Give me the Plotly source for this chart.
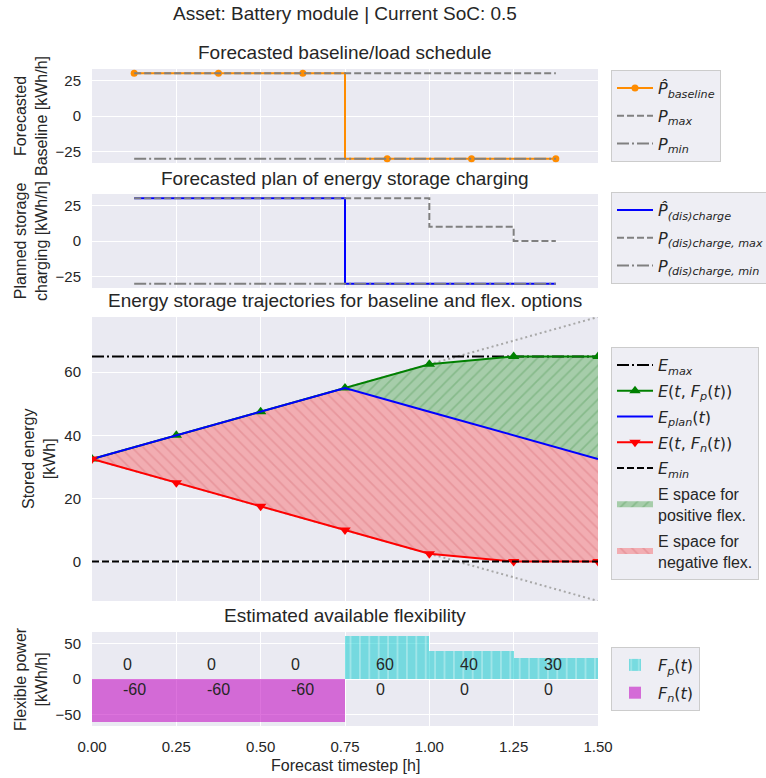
import plotly.graph_objects as go

# ---------------------------------------------------------------- data
# forecast timesteps (bin centres for power, bin edges for energy)
t_centers = [0.125, 0.375, 0.625, 0.875, 1.125, 1.375]
t_edges = [0.0, 0.25, 0.5, 0.75, 1.0, 1.25, 1.5]
x_ticks = [0.0, 0.25, 0.5, 0.75, 1.0, 1.25, 1.5]

# forecasted baseline / load schedule [kWh/h]
p_baseline = [30, 30, 30, -30, -30, -30]
p_max = [30, 30, 30, 30, 30, 30]
p_min = [-30, -30, -30, -30, -30, -30]

# planned storage (dis)charging [kWh/h]
p_charge = [30, 30, 30, -30, -30, -30]
p_charge_max = [30, 30, 30, 30, 10, 0]
p_charge_min = [-30, -30, -30, -30, -30, -30]

# stored energy trajectories [kWh]
e_plan = [32.5, 40, 47.5, 55, 47.5, 40, 32.5]
e_pos = [32.5, 40, 47.5, 55, 62.5, 65, 65]
e_neg = [32.5, 25, 17.5, 10, 2.5, 0, 0]
e_max = [65, 65]
e_min = [0, 0]
e_limit_x = [0.0, 1.5]
e_reach_up = [32.5, 77.5]
e_reach_down = [32.5, -12.5]

# estimated available flexibility [kWh/h]
flex_pos = [0, 0, 0, 60, 40, 30]
flex_neg = [-60, -60, -60, 0, 0, 0]

# ---------------------------------------------------------------- style
FONT = "Liberation Sans, Arial, sans-serif"
MATH = "DejaVu Sans"
INK = "#262626"
BG = "#EAEAF2"
W, H = 766, 778
L, R = 92, 598


def py(px):
    return 1 - px / H


def px_x(px):
    return (px - L) / (R - L)


def m(s):
    return "<span style='font-family:DejaVu Sans'>" + s + "</span>"


fig = go.Figure()

# ---------------------------------------------------------------- panel 1
fig.add_trace(go.Scatter(
    x=t_centers, y=p_baseline, mode="lines+markers",
    line=dict(color="#FF8C00", width=2, shape="hvh"),
    marker=dict(size=7, color="#FF8C00"),
    name="<i>P\u0302</i><sub><i>baseline</i></sub>",
    legend="legend", legendgroup="a1", xaxis="x", yaxis="y"))
fig.add_trace(go.Scatter(
    x=t_centers, y=p_max, mode="lines",
    line=dict(color="gray", width=2, shape="hvh", dash="7px,3px"),
    name="<i>P</i><sub><i>max</i></sub>",
    legend="legend", legendgroup="a2", xaxis="x", yaxis="y"))
fig.add_trace(go.Scatter(
    x=t_centers, y=p_min, mode="lines",
    line=dict(color="gray", width=2, shape="hvh", dash="12px,3px,2px,3px"),
    name="<i>P</i><sub><i>min</i></sub>",
    legend="legend", legendgroup="a3", xaxis="x", yaxis="y"))

# ---------------------------------------------------------------- panel 2
fig.add_trace(go.Scatter(
    x=t_centers, y=p_charge, mode="lines",
    line=dict(color="#0000FF", width=2, shape="hvh"),
    name="<i>P\u0302</i><sub><i>(dis)charge</i></sub>",
    legend="legend2", legendgroup="b1", xaxis="x2", yaxis="y2"))
fig.add_trace(go.Scatter(
    x=t_centers, y=p_charge_max, mode="lines",
    line=dict(color="gray", width=2, shape="hvh", dash="7px,3px"),
    name="<i>P</i><sub><i>(dis)charge, max</i></sub>",
    legend="legend2", legendgroup="b2", xaxis="x2", yaxis="y2"))
fig.add_trace(go.Scatter(
    x=t_centers, y=p_charge_min, mode="lines",
    line=dict(color="gray", width=2, shape="hvh", dash="12px,3px,2px,3px"),
    name="<i>P</i><sub><i>(dis)charge, min</i></sub>",
    legend="legend2", legendgroup="b3", xaxis="x2", yaxis="y2"))

# ---------------------------------------------------------------- panel 3
# hatched energy spaces
fig.add_trace(go.Scatter(
    x=t_edges, y=e_plan, mode="lines", line=dict(width=0),
    showlegend=False, hoverinfo="skip", xaxis="x3", yaxis="y3"))
fig.add_trace(go.Scatter(
    x=t_edges, y=e_pos, mode="none", fill="tonexty",
    fillcolor="#A6CDAA",
    fillpattern=dict(shape="/", fillmode="overlay", bgcolor="#A6CDAA",
                     fgcolor="#86BA8A", fgopacity=1, size=8, solidity=0.2),
    name="E space for<br>positive flex.",
    legend="legend3", legendgroup="c6", legendrank=6,
    xaxis="x3", yaxis="y3"))
fig.add_trace(go.Scatter(
    x=t_edges, y=e_neg, mode="lines", line=dict(width=0),
    showlegend=False, hoverinfo="skip", xaxis="x3", yaxis="y3"))
fig.add_trace(go.Scatter(
    x=t_edges, y=e_plan, mode="none", fill="tonexty",
    fillcolor="#F2ADB2",
    fillpattern=dict(shape="\\", fillmode="overlay", bgcolor="#F2ADB2",
                     fgcolor="#E8969C", fgopacity=1, size=8, solidity=0.2),
    name="E space for<br>negative flex.",
    legend="legend3", legendgroup="c7", legendrank=7,
    xaxis="x3", yaxis="y3"))
# reachable energy bounds
for yy in (e_reach_up, e_reach_down):
    fig.add_trace(go.Scatter(
        x=e_limit_x, y=yy, mode="lines",
        line=dict(color="#A8A8A8", width=2, dash="2px,3px"),
        showlegend=False, hoverinfo="skip", xaxis="x3", yaxis="y3"))
fig.add_trace(go.Scatter(
    x=e_limit_x, y=e_max, mode="lines",
    line=dict(color="black", width=2, dash="12px,3px,2px,3px"),
    name=m("<i>E</i><sub><i>max</i></sub>"),
    legend="legend3", legendgroup="c1", legendrank=1,
    xaxis="x3", yaxis="y3"))
fig.add_trace(go.Scatter(
    x=t_edges, y=e_pos, mode="lines+markers",
    line=dict(color="#008000", width=2),
    marker=dict(symbol="triangle-up", size=10, color="#008000"),
    name=m("<i>E</i>(<i>t</i>, <i>F</i><sub><i>p</i></sub>(<i>t</i>))"),
    legend="legend3", legendgroup="c2", legendrank=2,
    xaxis="x3", yaxis="y3"))
fig.add_trace(go.Scatter(
    x=t_edges, y=e_plan, mode="lines",
    line=dict(color="#0000FF", width=2),
    name=m("<i>E</i><sub><i>plan</i></sub>(<i>t</i>)"),
    legend="legend3", legendgroup="c3", legendrank=3,
    xaxis="x3", yaxis="y3"))
fig.add_trace(go.Scatter(
    x=t_edges, y=e_neg, mode="lines+markers",
    line=dict(color="#FF0000", width=2),
    marker=dict(symbol="triangle-down", size=10, color="#FF0000"),
    name=m("<i>E</i>(<i>t</i>, <i>F</i><sub><i>n</i></sub>(<i>t</i>))"),
    legend="legend3", legendgroup="c4", legendrank=4,
    xaxis="x3", yaxis="y3"))
fig.add_trace(go.Scatter(
    x=e_limit_x, y=e_min, mode="lines",
    line=dict(color="black", width=2, dash="7px,3px"),
    name=m("<i>E</i><sub><i>min</i></sub>"),
    legend="legend3", legendgroup="c5", legendrank=5,
    xaxis="x3", yaxis="y3"))

# ---------------------------------------------------------------- panel 4
fig.add_trace(go.Bar(
    x=t_centers, y=flex_pos, width=0.25,
    marker=dict(color="rgba(0,200,204,0.5)", line=dict(width=0),
                pattern=dict(shape="|", fillmode="overlay", fgcolor="white",
                             fgopacity=0.3, size=9.4, solidity=0.2)),
    name="<i>F</i><sub><i>p</i></sub>(<i>t</i>)",
    legend="legend4", legendgroup="d1", xaxis="x4", yaxis="y4"))
fig.add_trace(go.Bar(
    x=t_centers, y=flex_neg, width=0.25,
    marker=dict(color="rgba(191,0,191,0.55)", line=dict(width=0)),
    name="<i>F</i><sub><i>n</i></sub>(<i>t</i>)",
    legend="legend4", legendgroup="d2", xaxis="x4", yaxis="y4"))

annotations = []
for c, vp, vn in zip(t_centers, flex_pos, flex_neg):
    for v, yv in ((vp, 20), (vn, -15)):
        annotations.append(dict(
            x=c - 0.04, y=yv, xref="x4", yref="y4", text=str(v),
            showarrow=False, xanchor="left", yanchor="middle",
            font=dict(family=FONT, size=16, color=INK)))

# ---------------------------------------------------------------- titles
def text_ann(txt, xpx, ypx, size, angle=0):
    return dict(x=px_x(xpx), y=py(ypx), xref="paper", yref="paper", text=txt,
                showarrow=False, xanchor="center", yanchor="middle",
                textangle=angle, font=dict(family=FONT, size=size, color=INK))


mid = (L + R) / 2
annotations += [
    text_ann("Asset: Battery module | Current SoC: 0.5", mid, 14, 19),
    text_ann("Forecasted baseline/load schedule", mid, 53, 19),
    text_ann("Forecasted plan of energy storage charging", mid, 178, 19),
    text_ann("Energy storage trajectories for baseline and flex. options", mid, 300, 19),
    text_ann("Estimated available flexibility", mid, 615, 19),
    text_ann("Forecast timestep [h]", mid, 765, 16),
    text_ann("Forecasted<br>Baseline [kWh/h]", 31, 116, 16, -90),
    text_ann("Planned storage<br>charging [kWh/h]", 31, 241, 16, -90),
    text_ann("Stored energy<br>[kWh]", 39, 459, 16, -90),
    text_ann("Flexible power<br>[kWh/h]", 31, 679, 16, -90),
]

# ---------------------------------------------------------------- axes
tickfont = dict(family=FONT, size=15, color=INK)
xcommon = dict(range=[0, 1.5], tickvals=x_ticks, tickformat=".2f",
               showgrid=True, gridcolor="white", gridwidth=1,
               zeroline=False, showline=False, ticks="", domain=[0, 1],
               tickfont=tickfont, ticklabelstandoff=10)
ycommon = dict(showgrid=True, gridcolor="white", gridwidth=1,
               zeroline=False, showline=False, ticks="",
               tickfont=tickfont, ticklabelstandoff=10)


def legend_cfg(top_px, family, gap=4):
    return dict(x=px_x(611), xanchor="left", y=py(top_px), yanchor="top",
                bgcolor="#EEEEF4", bordercolor="#CCCCCC", borderwidth=1,
                font=dict(family=family, size=16, color=INK),
                traceorder="grouped", tracegroupgap=gap, itemwidth=36)


fig.update_layout(
    width=W, height=H,
    margin=dict(l=L, r=W - R, t=0, b=0, autoexpand=False),
    paper_bgcolor="white", plot_bgcolor=BG,
    barmode="overlay", bargap=0,
    xaxis=dict(xcommon, anchor="y", showticklabels=False),
    xaxis2=dict(xcommon, anchor="y2", showticklabels=False),
    xaxis3=dict(xcommon, anchor="y3", showticklabels=False),
    xaxis4=dict(xcommon, anchor="y4", showticklabels=True),
    yaxis=dict(ycommon, anchor="x", domain=[py(163), py(69)],
               range=[-33, 33], tickvals=[-25, 0, 25]),
    yaxis2=dict(ycommon, anchor="x2", domain=[py(288), py(194)],
                range=[-33, 33], tickvals=[-25, 0, 25]),
    yaxis3=dict(ycommon, anchor="x3", domain=[py(601), py(317)],
                range=[-12.5, 77.5], tickvals=[0, 20, 40, 60]),
    yaxis4=dict(ycommon, anchor="x4", domain=[py(726), py(632)],
                range=[-66, 66], tickvals=[-50, 0, 50]),
    legend=legend_cfg(70, MATH),
    legend2=legend_cfg(192, MATH),
    legend3=legend_cfg(347, FONT, gap=2),
    legend4=legend_cfg(647, MATH),
    annotations=annotations,
    showlegend=True,
)

fig.write_html("out.html")
